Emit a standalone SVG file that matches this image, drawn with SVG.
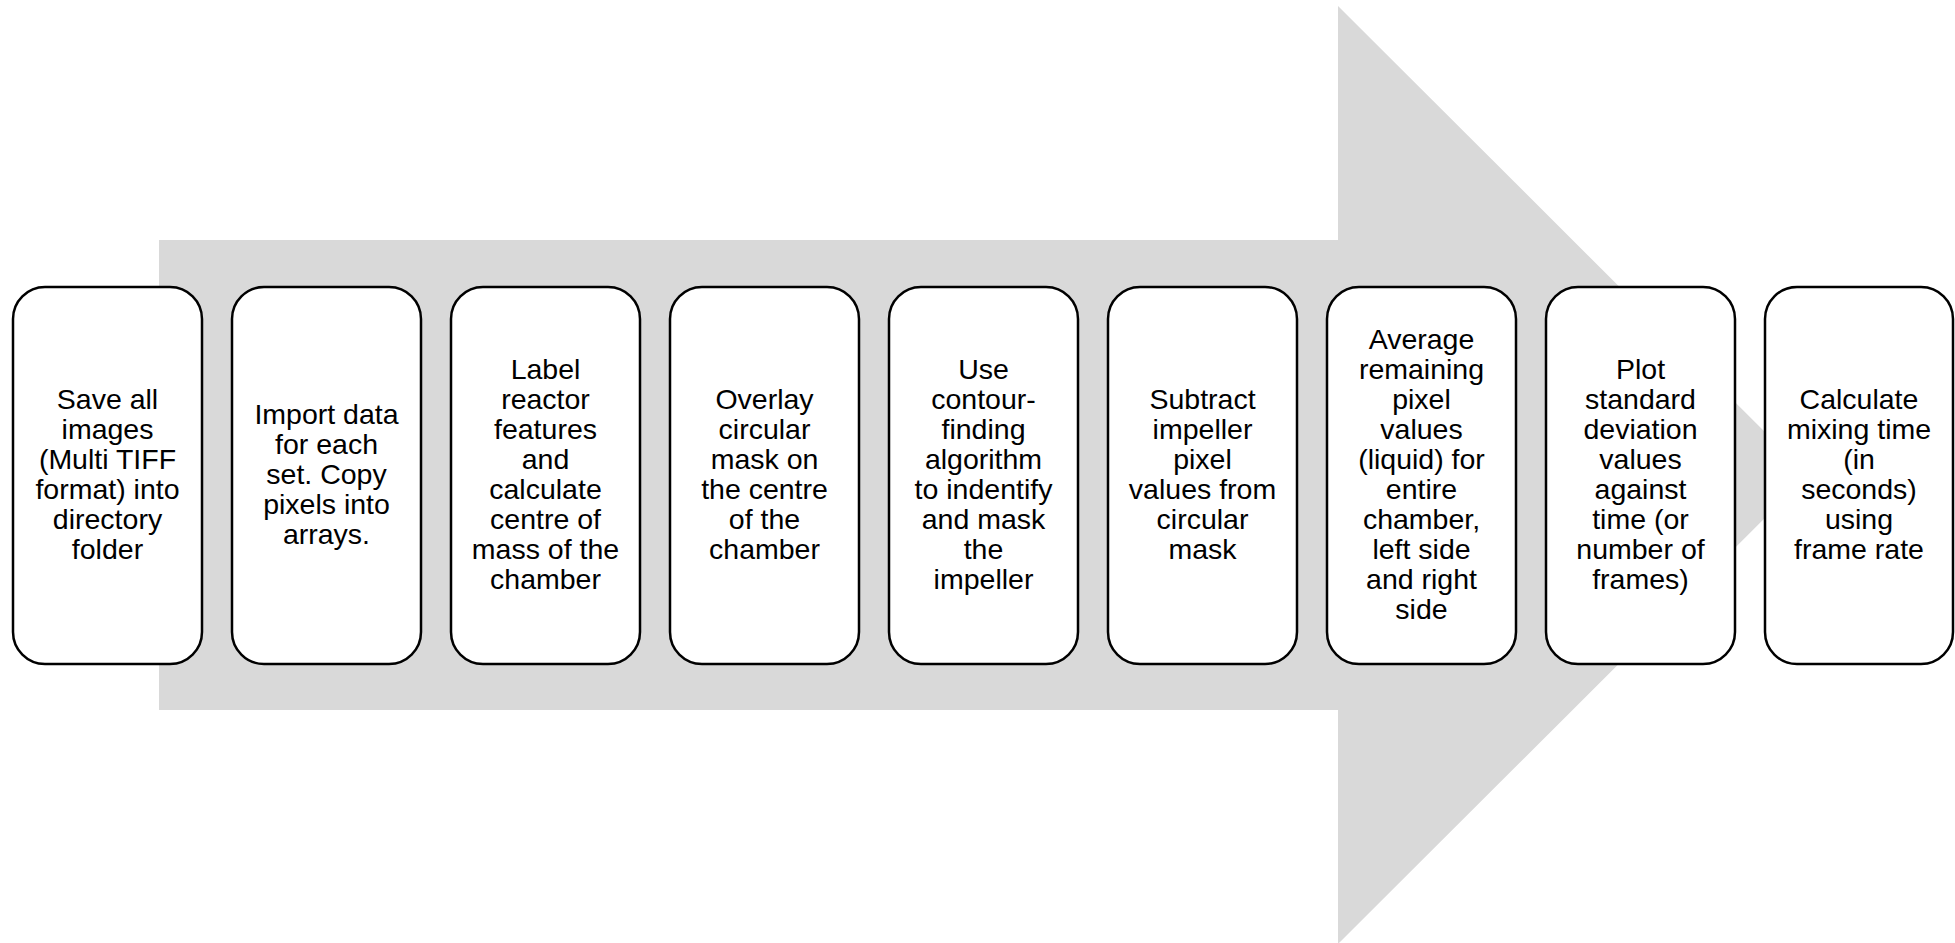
<svg xmlns="http://www.w3.org/2000/svg" width="1955" height="943" viewBox="0 0 1955 943">
<style>
.box{fill:#fff;stroke:#000;stroke-width:2.5}
.t{font-family:"Liberation Sans",Arial,sans-serif;font-size:28.5px;fill:#000;text-anchor:middle}
</style>
<rect width="1955" height="943" fill="#fff"/>
<g id="arrow"><polygon points="159,240 1338,240 1338,6 1808,475 1338,944 1338,710 159,710" fill="#d9d9d9"/></g>
<g id="connectors"></g>
<g id="n1"><rect class="box" x="13" y="287" width="189" height="377" rx="32"/>
<text class="t" x="107.5" y="409"><tspan x="107.5">Save all</tspan><tspan x="107.5" dy="30">images</tspan><tspan x="107.5" dy="30">(Multi TIFF</tspan><tspan x="107.5" dy="30">format) into</tspan><tspan x="107.5" dy="30">directory</tspan><tspan x="107.5" dy="30">folder</tspan></text></g>
<g id="n2"><rect class="box" x="232" y="287" width="189" height="377" rx="32"/>
<text class="t" x="326.5" y="424"><tspan x="326.5">Import data</tspan><tspan x="326.5" dy="30">for each</tspan><tspan x="326.5" dy="30">set. Copy</tspan><tspan x="326.5" dy="30">pixels into</tspan><tspan x="326.5" dy="30">arrays.</tspan></text></g>
<g id="n3"><rect class="box" x="451" y="287" width="189" height="377" rx="32"/>
<text class="t" x="545.5" y="379"><tspan x="545.5">Label</tspan><tspan x="545.5" dy="30">reactor</tspan><tspan x="545.5" dy="30">features</tspan><tspan x="545.5" dy="30">and</tspan><tspan x="545.5" dy="30">calculate</tspan><tspan x="545.5" dy="30">centre of</tspan><tspan x="545.5" dy="30">mass of the</tspan><tspan x="545.5" dy="30">chamber</tspan></text></g>
<g id="n4"><rect class="box" x="670" y="287" width="189" height="377" rx="32"/>
<text class="t" x="764.5" y="409"><tspan x="764.5">Overlay</tspan><tspan x="764.5" dy="30">circular</tspan><tspan x="764.5" dy="30">mask on</tspan><tspan x="764.5" dy="30">the centre</tspan><tspan x="764.5" dy="30">of the</tspan><tspan x="764.5" dy="30">chamber</tspan></text></g>
<g id="n5"><rect class="box" x="889" y="287" width="189" height="377" rx="32"/>
<text class="t" x="983.5" y="379"><tspan x="983.5">Use</tspan><tspan x="983.5" dy="30">contour-</tspan><tspan x="983.5" dy="30">finding</tspan><tspan x="983.5" dy="30">algorithm</tspan><tspan x="983.5" dy="30">to indentify</tspan><tspan x="983.5" dy="30">and mask</tspan><tspan x="983.5" dy="30">the</tspan><tspan x="983.5" dy="30">impeller</tspan></text></g>
<g id="n6"><rect class="box" x="1108" y="287" width="189" height="377" rx="32"/>
<text class="t" x="1202.5" y="409"><tspan x="1202.5">Subtract</tspan><tspan x="1202.5" dy="30">impeller</tspan><tspan x="1202.5" dy="30">pixel</tspan><tspan x="1202.5" dy="30">values from</tspan><tspan x="1202.5" dy="30">circular</tspan><tspan x="1202.5" dy="30">mask</tspan></text></g>
<g id="n7"><rect class="box" x="1327" y="287" width="189" height="377" rx="32"/>
<text class="t" x="1421.5" y="349"><tspan x="1421.5">Average</tspan><tspan x="1421.5" dy="30">remaining</tspan><tspan x="1421.5" dy="30">pixel</tspan><tspan x="1421.5" dy="30">values</tspan><tspan x="1421.5" dy="30">(liquid) for</tspan><tspan x="1421.5" dy="30">entire</tspan><tspan x="1421.5" dy="30">chamber,</tspan><tspan x="1421.5" dy="30">left side</tspan><tspan x="1421.5" dy="30">and right</tspan><tspan x="1421.5" dy="30">side</tspan></text></g>
<g id="n8"><rect class="box" x="1546" y="287" width="189" height="377" rx="32"/>
<text class="t" x="1640.5" y="379"><tspan x="1640.5">Plot</tspan><tspan x="1640.5" dy="30">standard</tspan><tspan x="1640.5" dy="30">deviation</tspan><tspan x="1640.5" dy="30">values</tspan><tspan x="1640.5" dy="30">against</tspan><tspan x="1640.5" dy="30">time (or</tspan><tspan x="1640.5" dy="30">number of</tspan><tspan x="1640.5" dy="30">frames)</tspan></text></g>
<g id="n9"><rect class="box" x="1765" y="287" width="188" height="377" rx="32"/>
<text class="t" x="1859" y="409"><tspan x="1859">Calculate</tspan><tspan x="1859" dy="30">mixing time</tspan><tspan x="1859" dy="30">(in</tspan><tspan x="1859" dy="30">seconds)</tspan><tspan x="1859" dy="30">using</tspan><tspan x="1859" dy="30">frame rate</tspan></text></g>
</svg>
